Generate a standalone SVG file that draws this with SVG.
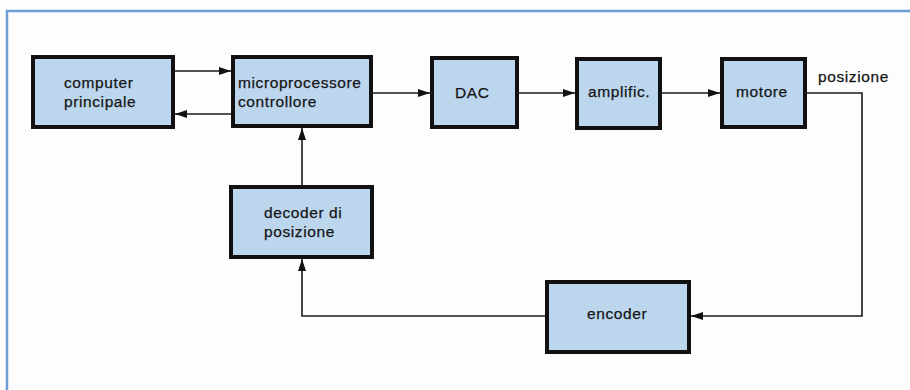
<svg xmlns="http://www.w3.org/2000/svg" width="910" height="390" viewBox="0 0 910 390">
<style>
.box{fill:#bcd6ee;stroke:#111;stroke-width:4}
.t{font-family:"Liberation Sans",Arial,sans-serif;font-size:15.5px;letter-spacing:0.6px;fill:#151515;stroke:#151515;stroke-width:0.25}
.c{fill:none;stroke:#1a1a1a;stroke-width:1.6}
</style>
<defs>
<marker id="ah" markerUnits="userSpaceOnUse" markerWidth="14" markerHeight="10" refX="12" refY="4" orient="auto">
<polygon points="0,0 12,4 0,8" fill="#111"/>
</marker>
</defs>
<rect x="0" y="0" width="910" height="390" fill="#fdfdfd"/>
<path d="M7,390 V11 H910" fill="none" stroke="#6d9fd2" stroke-width="2.5"/>
<g id="connectors">
<line class="c" x1="175" y1="71" x2="231" y2="71" marker-end="url(#ah)"/>
<line class="c" x1="231" y1="114" x2="175" y2="114" marker-end="url(#ah)"/>
<line class="c" x1="373" y1="93" x2="430" y2="93" marker-end="url(#ah)"/>
<line class="c" x1="519" y1="93" x2="575" y2="93" marker-end="url(#ah)"/>
<line class="c" x1="662" y1="93" x2="720" y2="93" marker-end="url(#ah)"/>
<polyline class="c" points="807,93 862,93 862,316 691,316" marker-end="url(#ah)"/>
<polyline class="c" points="545,316 302,316 302,259" marker-end="url(#ah)"/>
<line class="c" x1="302" y1="185" x2="302" y2="128" marker-end="url(#ah)"/>
</g>
<g id="computer">
<rect class="box" x="33" y="57" width="140" height="70"/>
<text class="t" x="64" y="88">computer</text>
<text class="t" x="64" y="107">principale</text>
</g>
<g id="micro">
<rect class="box" x="233" y="57" width="138" height="69"/>
<text class="t" x="238" y="88">microprocessore</text>
<text class="t" x="238" y="107">controllore</text>
</g>
<g id="dac">
<rect class="box" x="432" y="58" width="85" height="69"/>
<text class="t" x="455" y="98">DAC</text>
</g>
<g id="amp">
<rect class="box" x="577" y="59" width="83" height="69"/>
<text class="t" x="588" y="97">amplific.</text>
</g>
<g id="motore">
<rect class="box" x="722" y="59" width="83" height="68"/>
<text class="t" x="736" y="97">motore</text>
</g>
<g id="decoder">
<rect class="box" x="231" y="187" width="141" height="70"/>
<text class="t" x="264" y="218">decoder di</text>
<text class="t" x="264" y="237">posizione</text>
</g>
<g id="encoder">
<rect class="box" x="547" y="282" width="142" height="70"/>
<text class="t" x="587" y="319">encoder</text>
</g>
<g id="label">
<text class="t" x="818" y="82">posizione</text>
</g>
</svg>
